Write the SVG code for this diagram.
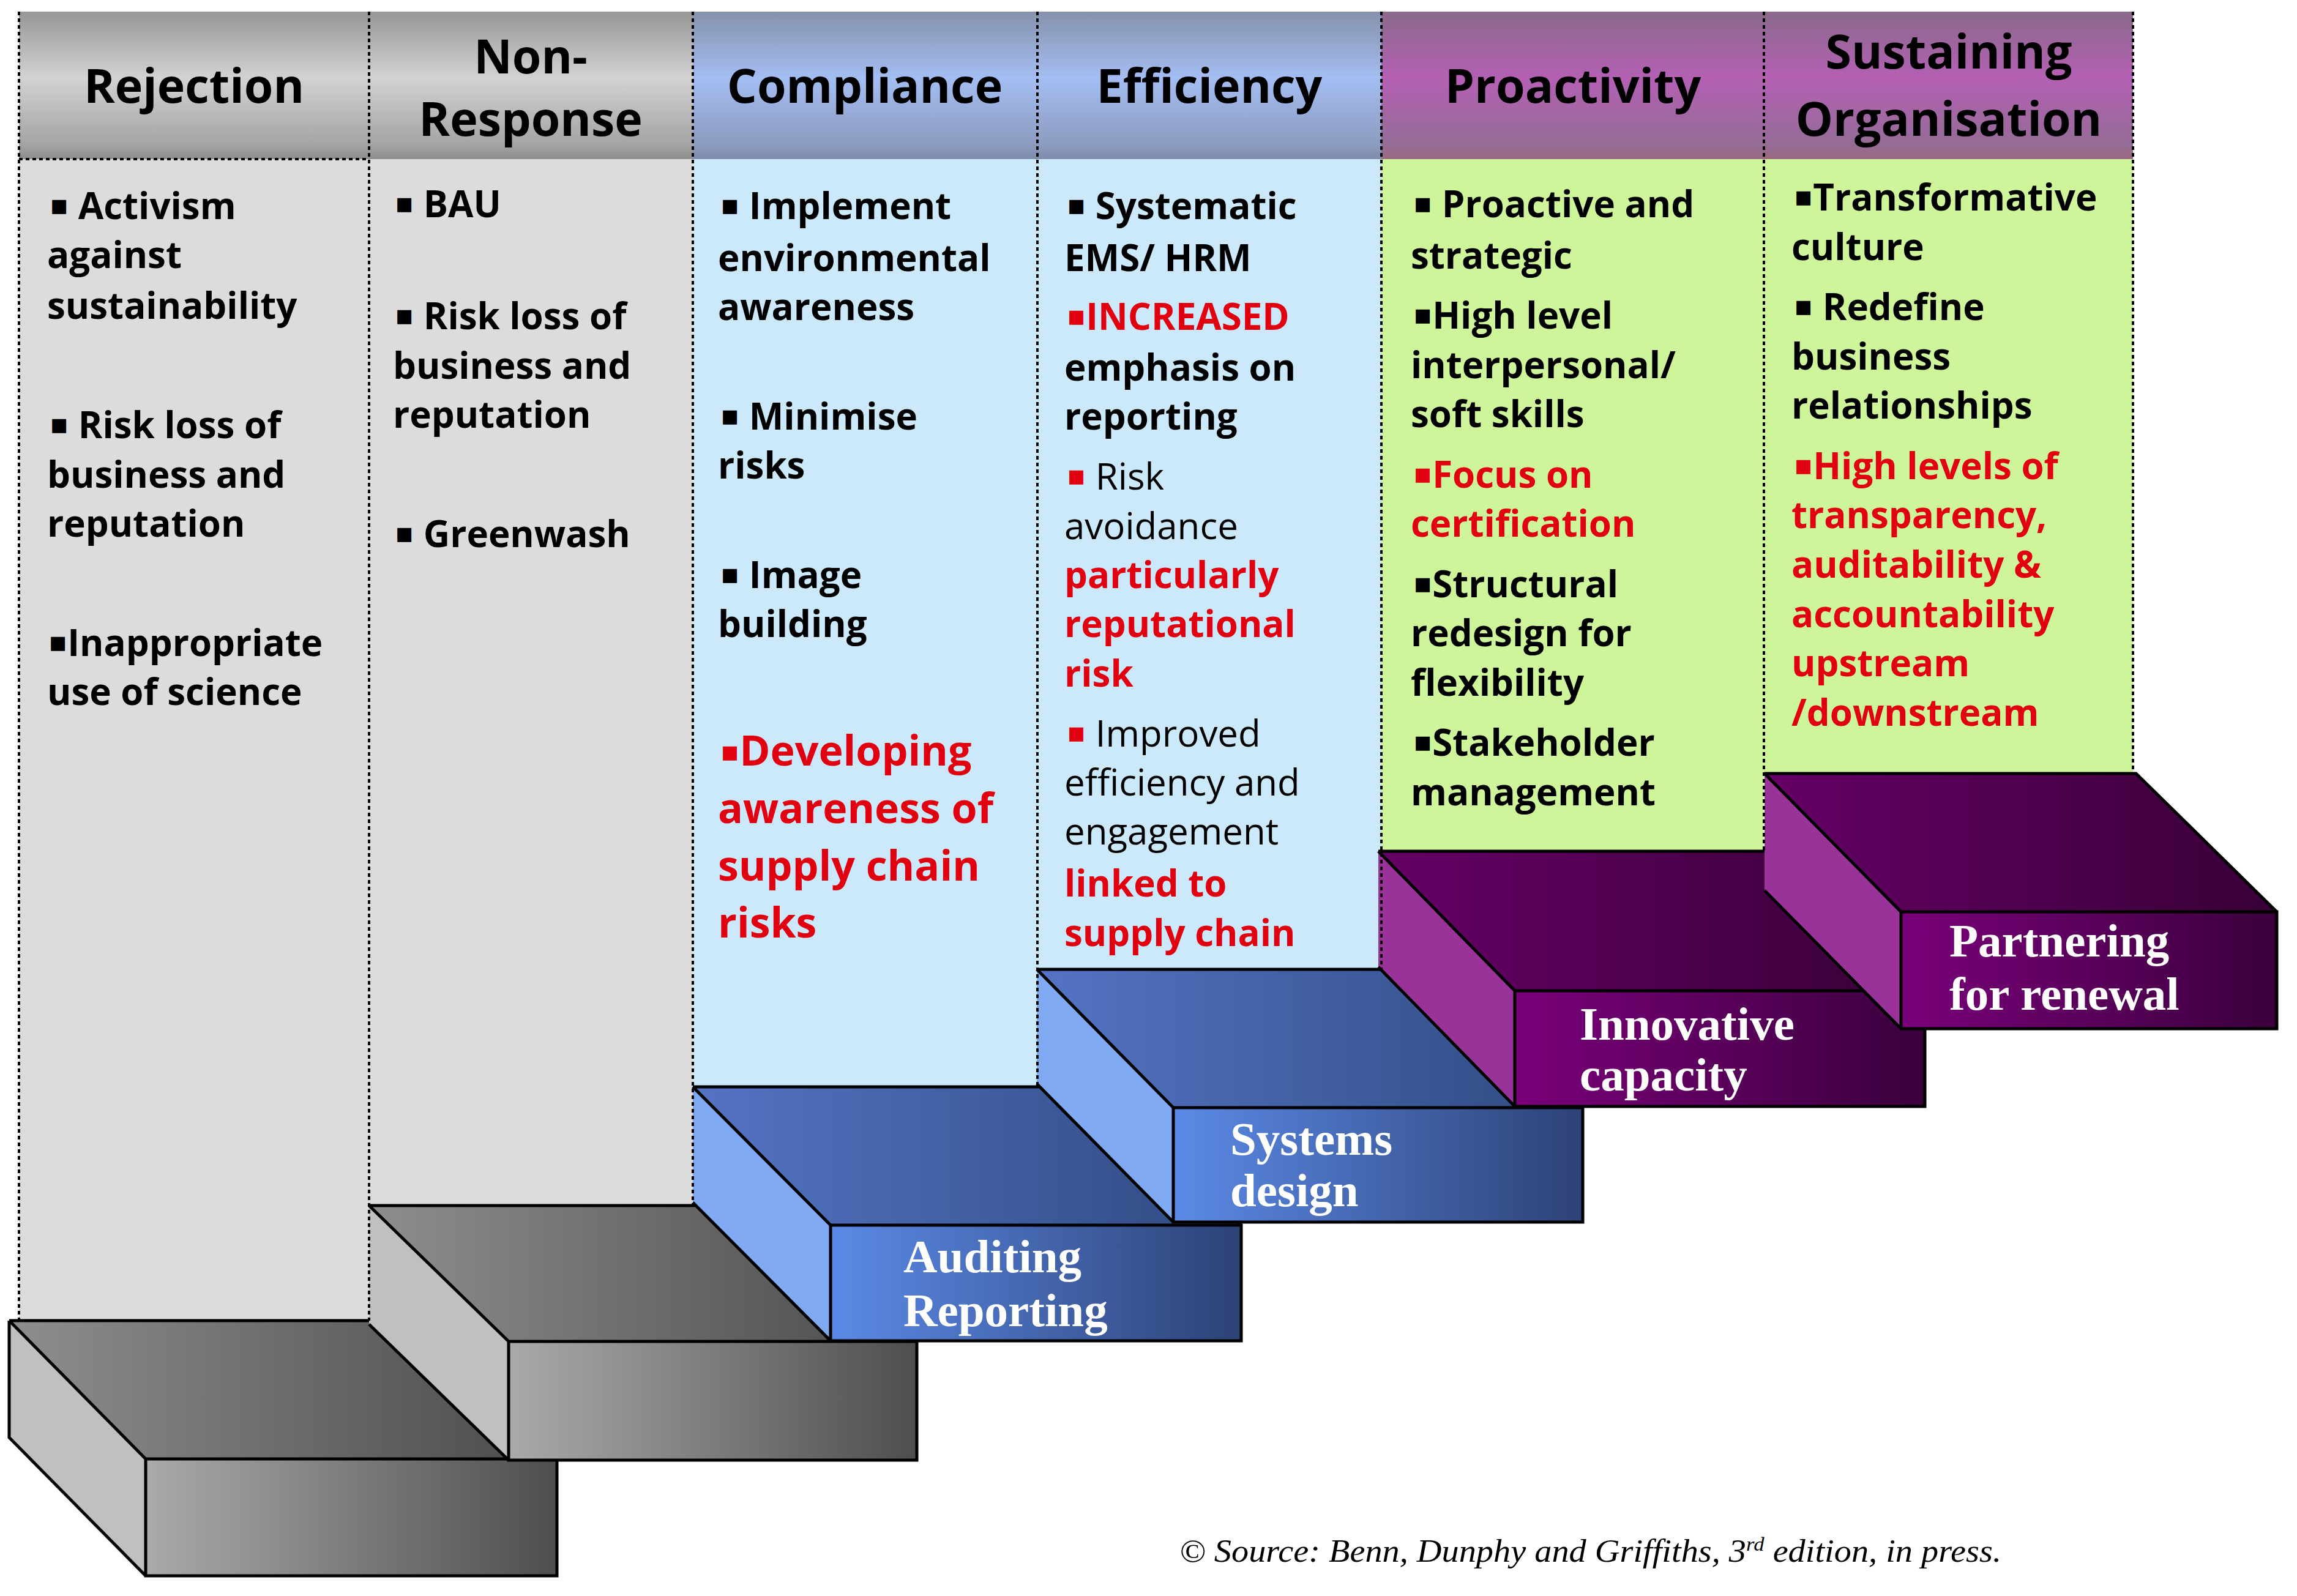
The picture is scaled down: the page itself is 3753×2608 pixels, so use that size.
<svg xmlns="http://www.w3.org/2000/svg" width="3753" height="2608" viewBox="0 0 3753 2608">
<defs>
<linearGradient id="hGray" x1="0" y1="0" x2="0" y2="1"><stop offset="0" stop-color="#979797"/><stop offset="0.45" stop-color="#d2d2d2"/><stop offset="0.9" stop-color="#a4a4a4"/><stop offset="1" stop-color="#8e8e8e"/></linearGradient>
<linearGradient id="hBlue" x1="0" y1="0" x2="0" y2="1"><stop offset="0" stop-color="#8592ac"/><stop offset="0.45" stop-color="#a4bdf2"/><stop offset="0.9" stop-color="#8c9cc0"/><stop offset="1" stop-color="#7e8cac"/></linearGradient>
<linearGradient id="hPurp" x1="0" y1="0" x2="0" y2="1"><stop offset="0" stop-color="#8a6a8a"/><stop offset="0.45" stop-color="#b460b4"/><stop offset="0.9" stop-color="#946c96"/><stop offset="1" stop-color="#9a6a80"/></linearGradient>
<linearGradient id="gTop" x1="0" y1="0" x2="1" y2="0"><stop offset="0" stop-color="#8e8e8e"/><stop offset="1" stop-color="#4a4a4a"/></linearGradient>
<linearGradient id="gFront" x1="0" y1="0" x2="1" y2="0"><stop offset="0" stop-color="#aaaaaa"/><stop offset="1" stop-color="#4e4e4e"/></linearGradient>
<linearGradient id="bTop" x1="0" y1="0" x2="1" y2="0"><stop offset="0" stop-color="#5474c4"/><stop offset="1" stop-color="#2f4a80"/></linearGradient>
<linearGradient id="bFront" x1="0" y1="0" x2="1" y2="0"><stop offset="0" stop-color="#5b8ae6"/><stop offset="1" stop-color="#2d4276"/></linearGradient>
<linearGradient id="pTop" x1="0" y1="0" x2="1" y2="0"><stop offset="0" stop-color="#660066"/><stop offset="1" stop-color="#380036"/></linearGradient>
<linearGradient id="pFront" x1="0" y1="0" x2="1" y2="0"><stop offset="0" stop-color="#7a007a"/><stop offset="1" stop-color="#3a003c"/></linearGradient>
</defs>
<style>
.h{font-family:"Open Sans","DejaVu Sans",sans-serif;font-weight:700;font-size:77px;text-anchor:middle;fill:#000}
.b{font-family:"Open Sans","DejaVu Sans",sans-serif;font-weight:700;font-size:60px;fill:#000}
.r{fill:#e00010}
.n{font-weight:400}
.big{font-size:68px}
.k{font-size:46px;baseline-shift:8px}
.s{font-family:"Liberation Serif",serif;font-weight:700;font-size:77px;fill:#fff}
.src{font-family:"Liberation Serif",serif;font-style:italic;font-size:52px;fill:#000}
.edge{fill:none;stroke:#000;stroke-width:5;stroke-linejoin:miter}
.dot{fill:none;stroke:#000;stroke-width:4;stroke-dasharray:6 5}
.gs{fill:#c0c0c0}.bs{fill:#80aaf2}.ps{fill:#993399}
</style>
<rect width="3753" height="2608" fill="#fff"/>

<!-- column bodies and headers -->
<g id="col-rejection">
<rect x="31" y="260" width="572" height="1898" fill="#dcdcdc"/>
<rect x="31" y="19" width="572" height="241" fill="url(#hGray)"/>
<text class="h" x="317" y="168">Rejection</text>
</g>
<g id="col-nonresponse">
<rect x="603" y="260" width="529" height="1710" fill="#dcdcdc"/>
<rect x="603" y="19" width="529" height="241" fill="url(#hGray)"/>
<text class="h" x="867" y="120">Non-</text>
<text class="h" x="867" y="222">Response</text>
</g>
<g id="col-compliance">
<rect x="1132" y="260" width="563" height="1516" fill="#cce8fb"/>
<rect x="1132" y="19" width="563" height="241" fill="url(#hBlue)"/>
<text class="h" x="1413" y="168">Compliance</text>
</g>
<g id="col-efficiency">
<rect x="1695" y="260" width="562" height="1324" fill="#cce8fb"/>
<rect x="1695" y="19" width="562" height="241" fill="url(#hBlue)"/>
<text class="h" x="1976" y="168">Efficiency</text>
</g>
<g id="col-proactivity">
<rect x="2257" y="260" width="625" height="1131" fill="#cff59a"/>
<rect x="2257" y="19" width="625" height="241" fill="url(#hPurp)"/>
<text class="h" x="2570" y="168">Proactivity</text>
</g>
<g id="col-sustaining">
<rect x="2882" y="260" width="603" height="1004" fill="#cff59a"/>
<rect x="2882" y="19" width="603" height="241" fill="url(#hPurp)"/>
<text class="h" x="3184" y="112">Sustaining</text>
<text class="h" x="3184" y="222">Organisation</text>
</g>

<!-- steps -->
<g id="step-1">
<polygon points="15,2158 687,2158 910,2384 238,2384" fill="url(#gTop)"/>
<polygon class="gs" points="15,2158 238,2384 238,2575 15,2349"/>
<rect x="238" y="2384" width="672" height="191" fill="url(#gFront)"/>
<path class="edge" d="M15,2158H687L910,2384M15,2158L238,2384M238,2384H910V2575H238ZM15,2158V2349L238,2575"/>
</g>
<g id="step-2">
<polygon points="603,1970 1270,1970 1498,2192 831,2192" fill="url(#gTop)"/>
<polygon class="gs" points="603,1970 831,2192 831,2386 603,2164"/>
<rect x="831" y="2192" width="667" height="194" fill="url(#gFront)"/>
<path class="edge" d="M603,1970H1270L1498,2192M603,1970L831,2192M831,2192H1498V2386H831ZM603,2164L831,2386"/>
</g>
<g id="step-3">
<polygon points="1132,1776 1803,1776 2028,2002 1357,2002" fill="url(#bTop)"/>
<polygon class="bs" points="1132,1776 1357,2002 1357,2191 1132,1965"/>
<rect x="1357" y="2002" width="671" height="189" fill="url(#bFront)"/>
<path class="edge" d="M1132,1776H1803L2028,2002M1132,1776L1357,2002M1357,2002H2028V2191H1357ZM1132,1965L1357,2191"/>
<text class="s" x="1476" y="2079">Auditing</text>
<text class="s" x="1476" y="2167">Reporting</text>
</g>
<g id="step-4">
<polygon points="1694,1584 2363,1584 2586,1810 1917,1810" fill="url(#bTop)"/>
<polygon class="bs" points="1694,1584 1917,1810 1917,1997 1694,1771"/>
<rect x="1917" y="1810" width="669" height="187" fill="url(#bFront)"/>
<path class="edge" d="M1694,1584H2363L2586,1810M1694,1584L1917,1810M1917,1810H2586V1997H1917ZM1694,1771L1917,1997"/>
<text class="s" x="2010" y="1887">Systems</text>
<text class="s" x="2010" y="1971">design</text>
</g>
<g id="step-5">
<polygon points="2252,1391 2922,1391 3145,1619 2475,1619" fill="url(#pTop)"/>
<polygon class="ps" points="2252,1391 2475,1619 2475,1808 2252,1580"/>
<rect x="2475" y="1619" width="670" height="189" fill="url(#pFront)"/>
<path class="edge" d="M2252,1391H2922L3145,1619M2252,1391L2475,1619M2475,1619H3145V1808H2475ZM2252,1580L2475,1808"/>
<text class="s" x="2581" y="1699">Innovative</text>
<text class="s" x="2581" y="1782">capacity</text>
</g>
<g id="step-6">
<polygon points="2883,1264 3490,1264 3720,1490 3106,1490" fill="url(#pTop)"/>
<polygon class="ps" points="2883,1264 3106,1490 3106,1681 2883,1455"/>
<rect x="3106" y="1490" width="614" height="191" fill="url(#pFront)"/>
<path class="edge" d="M2883,1264H3490L3720,1490M2883,1264L3106,1490M3106,1490H3720V1681H3106ZM2883,1455L3106,1681"/>
<text class="s" x="3185" y="1563">Partnering</text>
<text class="s" x="3185" y="1650">for renewal</text>
</g>

<!-- dotted column dividers -->
<g id="connectors">
<path class="dot" d="M31,19V2158M603,19V2158M1132,19V1970M1695,19V1776M2257,19V1584M2882,19V1391M3485,19V1264M31,260H603"/>
</g>

<!-- body texts -->
<g id="txt-rejection" class="b">
<text x="81" y="358"><tspan class="k">▪</tspan> Activism</text>
<text x="77" y="438">against</text>
<text x="77" y="521">sustainability</text>
<text x="81" y="716"><tspan class="k">▪</tspan> Risk loss of</text>
<text x="77" y="797">business and</text>
<text x="77" y="877">reputation</text>
<text x="79" y="1072"><tspan class="k">▪</tspan>Inappropriate</text>
<text x="77" y="1152">use of science</text>
</g>
<g id="txt-nonresponse" class="b">
<text x="645" y="355"><tspan class="k">▪</tspan> BAU</text>
<text x="645" y="538"><tspan class="k">▪</tspan> Risk loss of</text>
<text x="642" y="619">business and</text>
<text x="642" y="699">reputation</text>
<text x="645" y="894"><tspan class="k">▪</tspan> Greenwash</text>
</g>
<g id="txt-compliance" class="b">
<text x="1177" y="358"><tspan class="k">▪</tspan> Implement</text>
<text x="1173" y="443">environmental</text>
<text x="1173" y="523">awareness</text>
<text x="1177" y="702"><tspan class="k">▪</tspan> Minimise</text>
<text x="1173" y="782">risks</text>
<text x="1177" y="961"><tspan class="k">▪</tspan> Image</text>
<text x="1173" y="1041">building</text>
<text class="r big" x="1177" y="1251"><tspan class="k">▪</tspan>Developing</text>
<text class="r big" x="1173" y="1345">awareness of</text>
<text class="r big" x="1173" y="1439">supply chain</text>
<text class="r big" x="1173" y="1532">risks</text>
</g>
<g id="txt-efficiency" class="b">
<text x="1743" y="358"><tspan class="k">▪</tspan> Systematic</text>
<text x="1739" y="443">EMS/ HRM</text>
<text class="r" x="1743" y="539"><tspan class="k">▪</tspan>INCREASED</text>
<text x="1739" y="622">emphasis on</text>
<text x="1739" y="702">reporting</text>
<text class="n" x="1743" y="800"><tspan class="r k">▪</tspan> Risk</text>
<text class="n" x="1739" y="881">avoidance</text>
<text class="r" x="1739" y="961">particularly</text>
<text class="r" x="1739" y="1041">reputational</text>
<text class="r" x="1739" y="1122">risk</text>
<text class="n" x="1743" y="1220"><tspan class="r k">▪</tspan> Improved</text>
<text class="n" x="1739" y="1300">efficiency and</text>
<text class="n" x="1739" y="1380">engagement</text>
<text class="r" x="1739" y="1465">linked to</text>
<text class="r" x="1739" y="1546">supply chain</text>
</g>
<g id="txt-proactivity" class="b">
<text x="2309" y="355"><tspan class="k">▪</tspan> Proactive and</text>
<text x="2305" y="439">strategic</text>
<text x="2309" y="537"><tspan class="k">▪</tspan>High level</text>
<text x="2305" y="618">interpersonal/</text>
<text x="2305" y="698">soft skills</text>
<text class="r" x="2309" y="797"><tspan class="k">▪</tspan>Focus on</text>
<text class="r" x="2305" y="877">certification</text>
<text x="2309" y="976"><tspan class="k">▪</tspan>Structural</text>
<text x="2305" y="1056">redesign for</text>
<text x="2305" y="1137">flexibility</text>
<text x="2309" y="1235"><tspan class="k">▪</tspan>Stakeholder</text>
<text x="2305" y="1316">management</text>
</g>
<g id="txt-sustaining" class="b">
<text x="2931" y="344"><tspan class="k">▪</tspan>Transformative</text>
<text x="2927" y="425">culture</text>
<text x="2931" y="523"><tspan class="k">▪</tspan> Redefine</text>
<text x="2927" y="604">business</text>
<text x="2927" y="684">relationships</text>
<text class="r" x="2931" y="783"><tspan class="k">▪</tspan>High levels of</text>
<text class="r" x="2927" y="863">transparency,</text>
<text class="r" x="2927" y="944">auditability &amp;</text>
<text class="r" x="2927" y="1025">accountability</text>
<text class="r" x="2927" y="1105">upstream</text>
<text class="r" x="2927" y="1186">/downstream</text>
</g>

<text id="source" class="src" x="1927" y="2552" textLength="1343" lengthAdjust="spacingAndGlyphs">© Source: Benn, Dunphy and Griffiths, 3<tspan baseline-shift="super" font-size="32">rd</tspan> edition, in press.</text>
</svg>
